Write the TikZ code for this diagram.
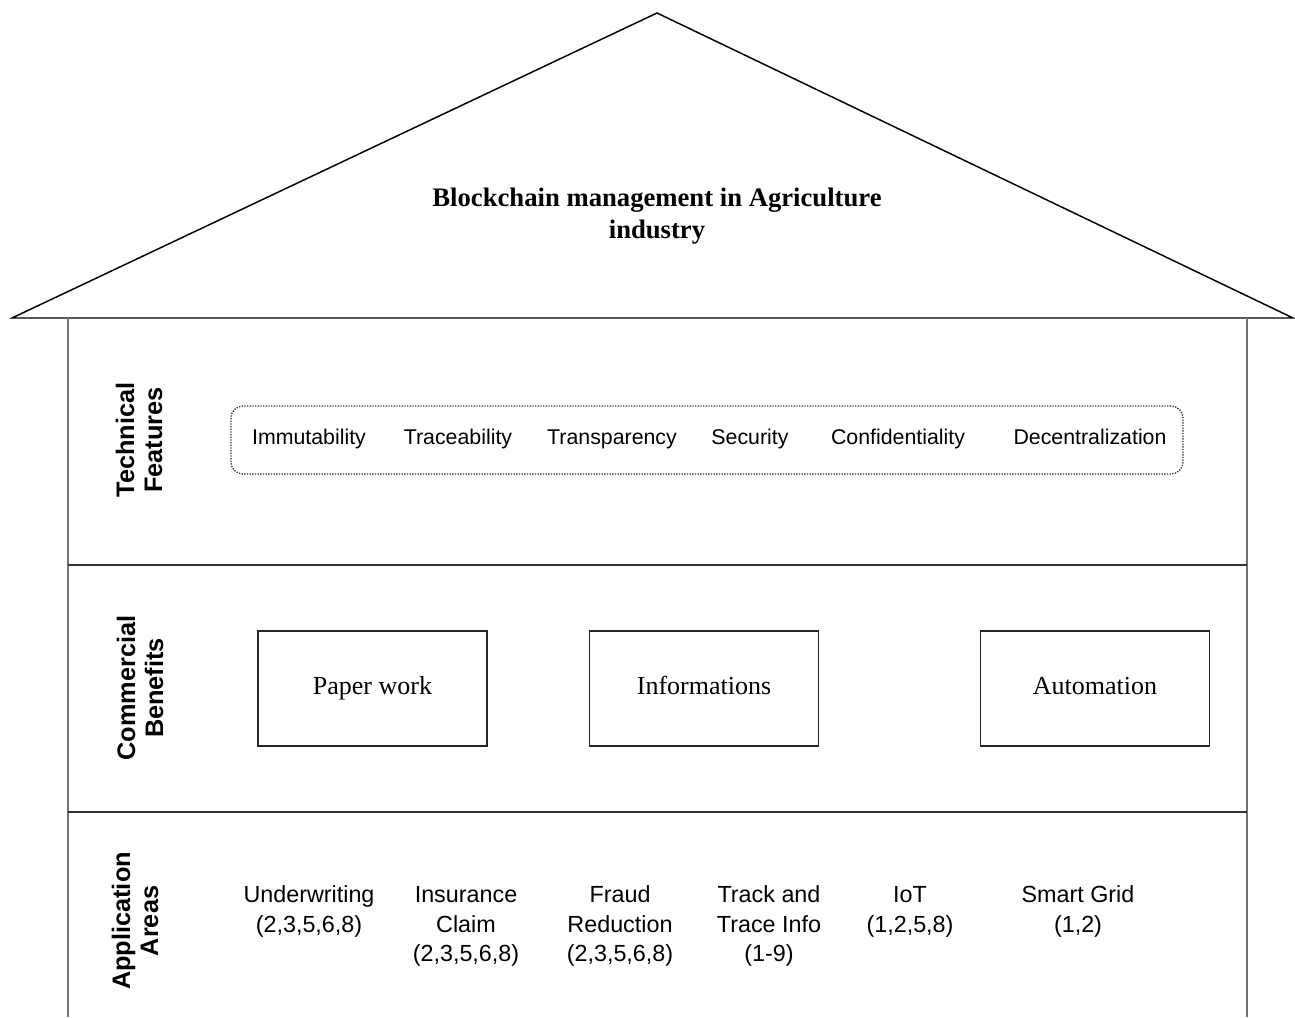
\documentclass[tikz,border=0pt]{standalone}
\usepackage{fontspec}
\setmainfont{Liberation Serif}
\setsansfont{Liberation Sans}
\usetikzlibrary{positioning}

\begin{document}
\begin{tikzpicture}[x=0.75pt,y=-0.75pt,
  wall/.style={draw=black!55,line width=1.6pt},
  floor/.style={draw=black!80,line width=1.1pt},
  sidelbl/.style={rotate=90,align=center,font=\sffamily\bfseries\fontsize{19}{21}\selectfont},
  feat/.style={anchor=base,inner sep=0pt,font=\sffamily\fontsize{16}{18}\selectfont},
  bene/.style={draw=black!85,line width=1.2pt,minimum width=172pt,minimum height=86pt,
     text height=2.1ex,text depth=.3ex,font=\fontsize{19.5}{22}\selectfont},
  appl/.style={anchor=north,inner sep=0pt,align=center,font=\sffamily\fontsize{17.5}{22}\selectfont}]
\useasboundingbox (0,0) rectangle (1295,1017);
% roof and walls
\draw[line width=1.1pt,line join=miter] (12,318) -- (657,13) -- (1293,318) -- cycle;
\draw[wall] (68,318) -- (68,1017);
\draw[wall] (1247,318) -- (1247,1017);
\draw[floor] (68,565) -- (1247,565);
\draw[floor] (68,812) -- (1247,812);
\node[font=\bfseries\fontsize{20}{24}\selectfont,align=center] (title) at (657,216)
   {Blockchain management in Agriculture\\industry};
% side labels
\node[sidelbl] (techlbl) at (139,440) {Technical\\Features};
\node[sidelbl] (commlbl) at (140,688) {Commercial\\Benefits};
\node[sidelbl] (appllbl) at (135,921) {Application\\Areas};
% technical features
\node[draw=black!80,densely dotted,line width=1pt,rounded corners=9pt,
   minimum width=714pt,minimum height=51pt] (techbox) at (707,440) {};
\foreach \x/\1 [count=\i] in %
{309/Immutability,458/Traceability,612/Transparency,750/Security,898/Confidentiality,1090/Decentralization} {
   \node[feat] (tf\i) at (\x,444) {\1};
}
% commercial benefits
\foreach \x/\1 [count=\i] in %
{372.5/Paper work,704/Informations,1095/Automation} {
   \node[bene] (cb\i) at (\x,688.5) {\1};
}
% application areas
\foreach \x/\1 [count=\i] in %
{309/{Underwriting\\(2,3,5,6,8)},466/{Insurance\\Claim\\(2,3,5,6,8)},620/{Fraud\\Reduction\\(2,3,5,6,8)},
 769/{Track and\\Trace Info\\(1-9)},910/{IoT\\(1,2,5,8)},1078/{Smart Grid\\(1,2)}} {
   \node[appl] (aa\i) at (\x,882) {\strut\1};
}
\end{tikzpicture}
\end{document}
